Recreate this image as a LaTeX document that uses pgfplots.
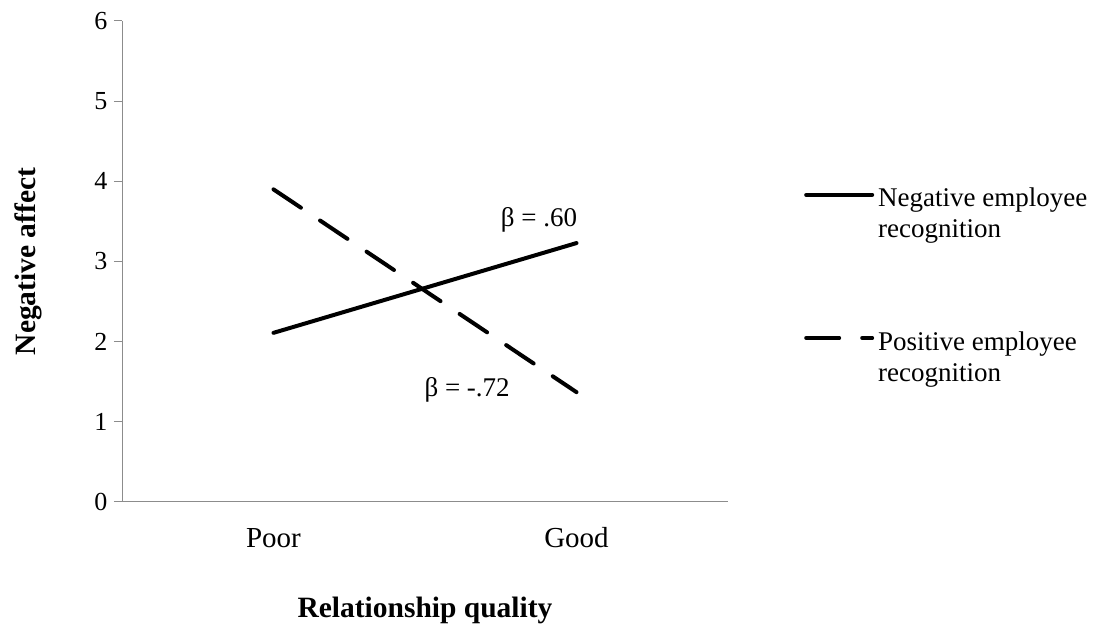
\documentclass[border=0pt]{standalone}
\usepackage{fontspec}
\setmainfont{Liberation Serif}
\usepackage{pgfplots}
\pgfplotsset{compat=1.18}
\begin{document}
\begin{tikzpicture}[font=\fontsize{27bp}{31bp}\selectfont]
\useasboundingbox (0,0) rectangle (1097bp,633bp);
\begin{axis}[
  at={(122bp,131bp)}, anchor=south west,
  scale only axis, width=606bp, height=481bp,
  xmin=-0.5, xmax=1.5, ymin=0, ymax=6,
  xtick={0,1}, xticklabels={Poor,Good},
  ytick={0,1,2,3,4,5,6},
  axis x line*=bottom, axis y line*=left,
  axis line style={draw=black!45, line width=1bp, -},
  x tick style={draw=none},
  y tick style={draw=black!45, line width=1bp},
  tick align=outside, major tick length=8bp,
  yticklabel style={font=\fontsize{26bp}{30bp}\selectfont, xshift=-3bp},
  xticklabel style={font=\fontsize{29bp}{33bp}\selectfont, anchor=base, yshift=-37bp},
  /pgf/number format/assume math mode=true,
  xlabel={Relationship quality},
  ylabel={Negative affect},
  xlabel style={at={(axis description cs:0.5,-0.2245)}, anchor=center, font=\bfseries\fontsize{29.5bp}{33bp}\selectfont},
  ylabel style={at={(axis description cs:-0.154,0.5)}, anchor=center, font=\bfseries\fontsize{29.5bp}{33bp}\selectfont},
  legend style={at={(rel axis cs:1.1221,0.657)}, anchor=north west, draw=none, fill=none,
    inner sep=0pt, row sep=88bp, column sep=0bp,
    cells={align=left, inner sep=0pt},
    font=\fontsize{27bp}{31bp}\selectfont},
  legend cell align=left,
  legend image code/.code={\path (0bp,0bp) (70bp,0bp); \draw[#1] (2bp,19bp) -- (68bp,19bp);},
  clip=false,
]
\addplot[black, line width=4bp, line cap=round] coordinates {(0,2.11) (1,3.23)};
\addlegendentry{Negative employee\\recognition}
\addplot[black, line width=4bp, line cap=round, dash pattern=on 33bp off 23bp] coordinates {(0,3.90) (1,1.37)};
\addlegendentry{Positive employee\\recognition}
\node at (axis cs:0.876,3.52) {β = .60};
\node at (axis cs:0.639,1.40) {β = -.72};
\end{axis}
\end{tikzpicture}
\end{document}
